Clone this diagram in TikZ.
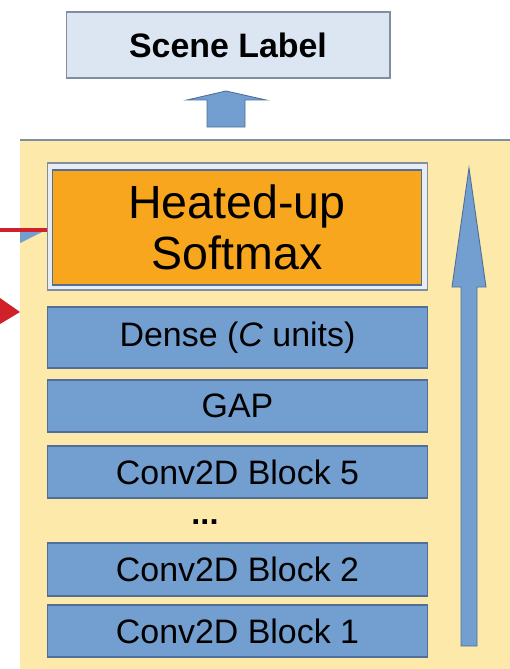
\documentclass[tikz,border=0pt]{standalone}
\usepackage{fontspec}
\setmainfont{Liberation Sans}
\definecolor{panelyellow}{HTML}{FDE9A9}
\definecolor{layerblue}{HTML}{729FCF}
\definecolor{layerline}{HTML}{4F6F9A}
\definecolor{heatorange}{HTML}{F8A61D}
\definecolor{labelfill}{HTML}{DCE6F2}
\definecolor{labelline}{HTML}{7F8FA0}
\definecolor{outerfill}{HTML}{E8EDF4}
\definecolor{alertred}{HTML}{D0202A}
\tikzset{
  layer/.style={draw=layerline, fill=layerblue, line width=0.6pt,
    minimum width=7.62cm, inner sep=0pt,
    font=\fontsize{19.3}{21}\selectfont},
  blockarrow/.style={draw=layerline, fill=layerblue, line width=0.5pt, line join=miter}
}
\begin{document}
\begin{tikzpicture}[x=0.02cm, y=-0.02cm]
    \useasboundingbox (0,0) rectangle (510,669);
    % panel
    \fill[panelyellow] (20,140) rectangle (510,669);
    \draw[labelline, line width=0.6pt] (20,140) -- (510,140);
    % scene label on top
    \node[draw=labelline, fill=labelfill, line width=0.6pt, minimum width=6.48cm,
          minimum height=1.32cm, font=\fontsize{19.3}{21}\selectfont\bfseries]
          (scene) at (228,45) {Scene Label};
    \draw[blockarrow] (207,127) -- (207,100) -- (187,100) -- (226,91)
          -- (266,100) -- (245,100) -- (245,127) -- cycle;
    % softmax
    \node[draw=labelline, fill=outerfill, line width=0.6pt, minimum width=7.62cm,
          minimum height=2.54cm] (outer) at (237.5,226.5) {};
    \node[draw=layerline, fill=heatorange, line width=0.6pt, minimum width=7.4cm,
          minimum height=2.3cm, align=center,
          font=\fontsize{26.5}{29}\selectfont] (soft) at (237,227.5) {Heated-up\\Softmax};
    % layers
    \node[layer, minimum height=1.22cm] (dense) at (237.5,337.5) {Dense (\textit{C} units)};
    \node[layer, minimum height=1.04cm] (gap) at (237.5,406) {GAP};
    \node[layer, minimum height=1.04cm] (conv5) at (237.5,472) {Conv2D Block 5};
    \node[font=\fontsize{18.5}{20}\selectfont\bfseries] (dots) at (205,522) {...};
    \node[layer, minimum height=1.06cm] (conv2) at (237.5,569.5) {Conv2D Block 2};
    \node[layer, minimum height=1.04cm] (conv1) at (237.5,631) {Conv2D Block 1};
    % big arrow on the right
    \draw[blockarrow] (461,646) -- (461,287) -- (452,287) -- (469,168)
          -- (486,287) -- (477,287) -- (477,646) -- cycle;
    % marks at the left edge
    \coordinate (redin) at (0,230);
    \fill[layerblue] (20,230) -- (46,230) -- (20,243) -- cycle;
    \draw[alertred, line width=2pt] (redin) -- (outer.west |- redin);
    \fill[alertred] (0,298) -- (20,312) -- (0,324) -- cycle;
\end{tikzpicture}
\end{document}
